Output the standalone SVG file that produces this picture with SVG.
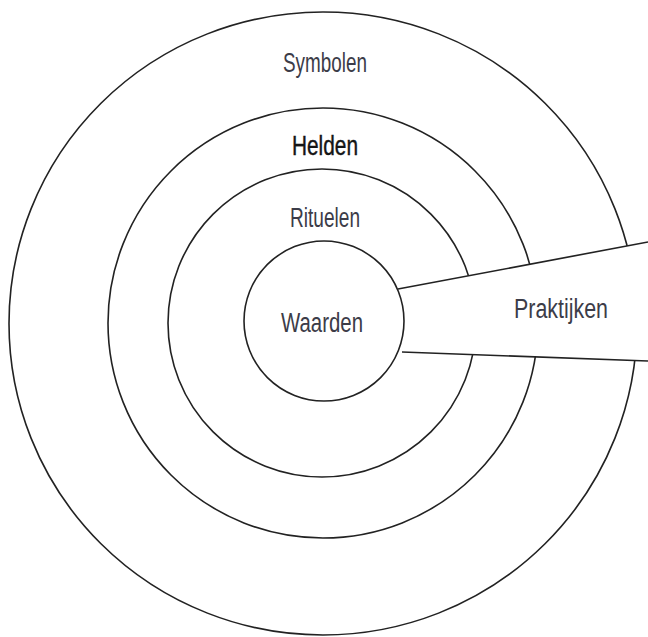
<svg xmlns="http://www.w3.org/2000/svg" width="648" height="637" viewBox="0 0 648 637">
<style>
.ring{fill:none;stroke:#222;stroke-width:1.6}
.lbl{font-family:"Liberation Sans","Roboto",sans-serif;font-size:27px;fill:#3c3c48;text-anchor:middle}
.mask{fill:#fff;stroke:none}
</style>
<rect width="648" height="637" fill="#fff"/>
<g id="symbolen">
<ellipse class="ring" cx="323" cy="323.5" rx="314" ry="311.5"/>
<text class="lbl" x="325" y="72" textLength="84" lengthAdjust="spacingAndGlyphs">Symbolen</text>
</g>
<g id="helden">
<circle class="ring" cx="323" cy="323" r="215"/>
<text class="lbl" x="325" y="155" textLength="66" lengthAdjust="spacingAndGlyphs" style="fill:#151515;stroke:#151515;stroke-width:0.4">Helden</text>
</g>
<g id="rituelen">
<circle class="ring" cx="322" cy="323" r="154"/>
<text class="lbl" x="325" y="227" textLength="70" lengthAdjust="spacingAndGlyphs">Rituelen</text>
</g>
<g id="praktijken">
<polygon class="mask" points="398,289 648,242 648,361 402,352"/>
<text class="lbl" x="561" y="318" textLength="94" lengthAdjust="spacingAndGlyphs">Praktijken</text>
</g>
<g id="waarden">
<circle class="ring" cx="324" cy="321" r="80"/>
<text class="lbl" x="322" y="332" textLength="82" lengthAdjust="spacingAndGlyphs">Waarden</text>
</g>
<g id="connectors">
<line class="ring" x1="398" y1="289" x2="648" y2="242"/>
<line class="ring" x1="402" y1="352" x2="648" y2="361"/>
</g>
</svg>
